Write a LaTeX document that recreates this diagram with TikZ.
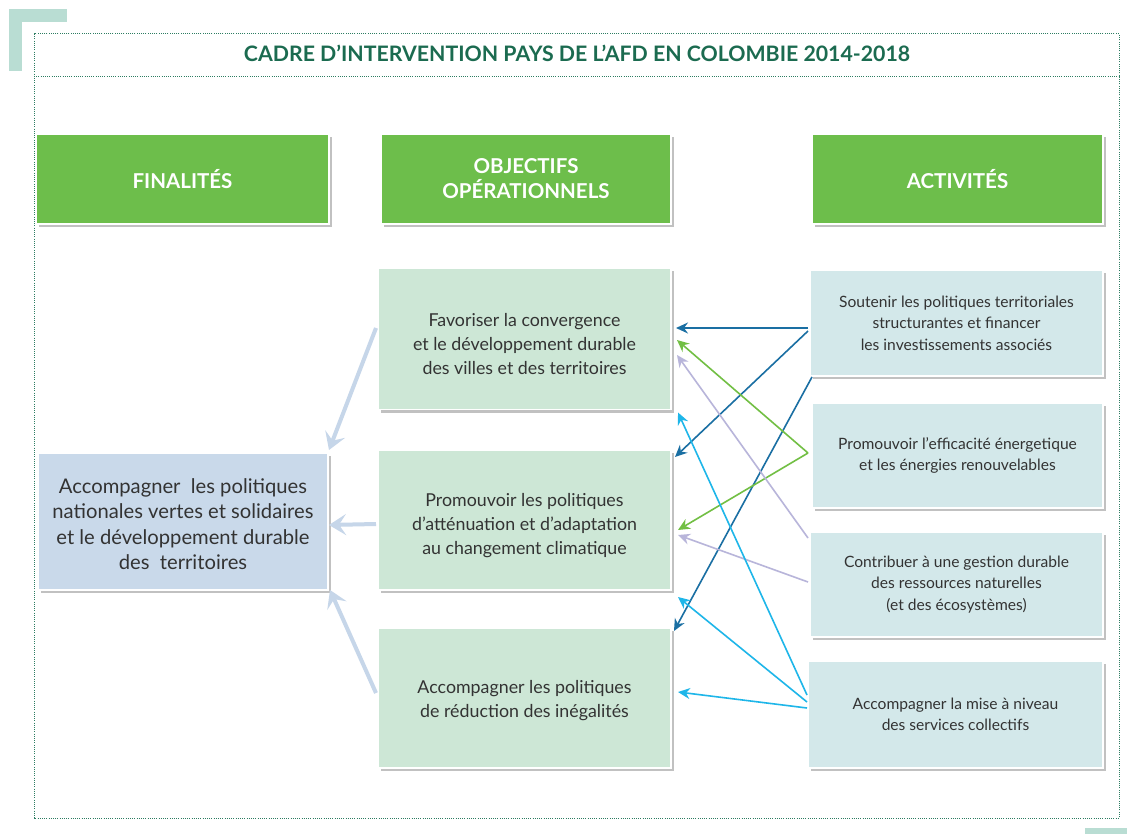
\documentclass[tikz,border=0pt]{standalone}
\usepackage{fontspec}
\setmainfont{Lato}
\usetikzlibrary{arrows.meta,shadows}
\definecolor{titlegreen}{HTML}{1B6B50}
\definecolor{framegreen}{HTML}{2E7D62}
\definecolor{headgreen}{HTML}{6DBE4B}
\definecolor{finblue}{HTML}{C9D9EA}
\definecolor{objgreen}{HTML}{CDE7D6}
\definecolor{actteal}{HTML}{D3E8EA}
\definecolor{deco}{HTML}{B9DDD3}
\definecolor{txt}{HTML}{333333}
\definecolor{darkblue}{HTML}{1A6FA3}
\definecolor{lgreen}{HTML}{72BF44}
\definecolor{lavender}{HTML}{B8B5DA}
\definecolor{cyanb}{HTML}{1EB6E9}
\definecolor{thickblue}{HTML}{C6D6E9}
\tikzset{
  box/.style={draw=white, line width=1.5pt, outer sep=0pt, inner sep=0pt, align=center, text=txt,
    drop shadow={shadow xshift=3pt, shadow yshift=-3pt, opacity=0.4, fill=black!60}},
  header/.style={box, fill=headgreen, minimum height=90pt, text=white, font=\bfseries\fontsize{20.5}{25}\selectfont},
  finbox/.style={box, fill=finblue, font=\fontsize{20.2}{25.5}\selectfont},
  objbox/.style={box, fill=objgreen, minimum width=293pt, font=\fontsize{17.8}{24}\selectfont},
  actbox/.style={box, fill=actteal, font=\fontsize{15.6}{21.5}\selectfont},
  link/.style={line width=1.6pt, -{Stealth[length=12pt,width=11pt,inset=4pt]}},
  thick/.style={line width=4pt, draw=thickblue, -{Stealth[length=17pt,width=21pt,inset=7pt]}},
}
\begin{document}
\begin{tikzpicture}[x=1pt,y=-1pt]
\useasboundingbox (0,0) rectangle (1127,834);
\fill[white] (0,0) rectangle (1127,834);
% decorations
\fill[deco] (9,9) rectangle (67,22);
\fill[deco] (9,9) rectangle (22,71);
\fill[deco] (1085,828) rectangle (1127,834);
% frame
\draw[framegreen, line width=1pt, dash pattern=on 1pt off 1.2pt] (34,34) rectangle (1119,818);
\draw[framegreen, line width=1pt, dash pattern=on 1pt off 1.2pt] (34,77) -- (1119,77);
\node[text=titlegreen, font=\bfseries\fontsize{21.3}{24}\selectfont] (title) at (577,53) {CADRE D’INTERVENTION PAYS DE L’AFD EN COLOMBIE 2014-2018};
% headers
\node[header, minimum width=293pt] (h1) at (182.5,179) {FINALITÉS};
\node[header, minimum width=290pt] (h2) at (526,179) {OBJECTIFS\\OPÉRATIONNELS};
\node[header, minimum width=291pt] (h3) at (957.5,179) {ACTIVITÉS};
% finalite
\node[finbox, minimum width=290pt, minimum height=137pt, text height=97pt] (fin) at (183,521.5) {Accompagner\ \ les politiques\\nationales vertes et solidaires\\et le développement durable\\des\ \ territoires};
% objectives
\node[objbox, minimum height=141pt, text height=70.5pt] (o1) at (524.5,339) {Favoriser la convergence\\et le développement durable\\des villes et des territoires};
\node[objbox, minimum height=140pt, text height=71.5pt] (o2) at (524.5,520) {Promouvoir les politiques\\d’atténuation et d’adaptation\\au changement climatique};
\node[objbox, minimum height=140pt, text height=43pt] (o3) at (524.5,698) {Accompagner les politiques\\de réduction des inégalités};
% activities
\node[actbox, minimum width=293pt, minimum height=106pt] (a1) at (956.5,323) {Soutenir les politiques territoriales\\structurantes et financer\\les investissements associés};
\node[actbox, minimum width=291pt, minimum height=105pt] (a2) at (957.5,455.5) {Promouvoir l’efficacité énergetique\\et les énergies renouvelables};
\node[actbox, minimum width=293pt, minimum height=105pt] (a3) at (956.5,584.5) {Contribuer à une gestion durable\\des ressources naturelles\\(et des écosystèmes)};
\node[actbox, minimum width=295pt, minimum height=107pt] (a4) at (955.5,714.5) {Accompagner la mise à niveau\\des services collectifs};
% thick arrows to finalite
\draw[thick] ([xshift=-2pt,yshift=11pt]o1.west) -- ([xshift=1pt,yshift=3pt]fin.north east);
\draw[thick] ([xshift=-2pt,yshift=-4pt]o2.west) -- ([xshift=1pt,yshift=-3.5pt]fin.east);
\draw[thick] ([xshift=-2pt,yshift=5pt]o3.west) -- ([xshift=2pt,yshift=0pt]fin.south east);
% activity links
\draw[link, darkblue] ([xshift=-2pt,yshift=-5pt]a1.west) -- ([xshift=5pt,yshift=11pt]o1.east);
\draw[link, darkblue] ([xshift=-2pt,yshift=-8pt]a1.west) -- ([xshift=4pt,yshift=63pt]o2.east);
\draw[link, darkblue] ([xshift=2pt,yshift=-1pt]a1.south west) -- ([xshift=3pt,yshift=-3pt]o3.north east);
\draw[link, lgreen] ([xshift=-4pt,yshift=2.5pt]a2.west) -- ([xshift=6pt,yshift=-1pt]o1.east);
\draw[link, lgreen] ([xshift=-4pt,yshift=2.5pt]a2.west) -- ([xshift=7pt,yshift=-10pt]o2.east);
\draw[link, lavender] ([xshift=-2pt,yshift=46.5pt]a3.west) -- ([xshift=6pt,yshift=-16pt]o1.east);
\draw[link, lavender] ([xshift=-2pt,yshift=2.5pt]a3.west) -- ([xshift=7pt,yshift=-15pt]o2.east);
\draw[link, cyanb] ([xshift=-1pt,yshift=19.5pt]a4.west) -- ([xshift=7pt,yshift=-3pt]o1.south east);
\draw[link, cyanb] ([xshift=-1pt,yshift=12.5pt]a4.west) -- ([xshift=7pt,yshift=-7pt]o2.south east);
\draw[link, cyanb] ([xshift=-1pt,yshift=6.5pt]a4.west) -- ([xshift=7pt,yshift=6pt]o3.east);
\end{tikzpicture}
\end{document}
